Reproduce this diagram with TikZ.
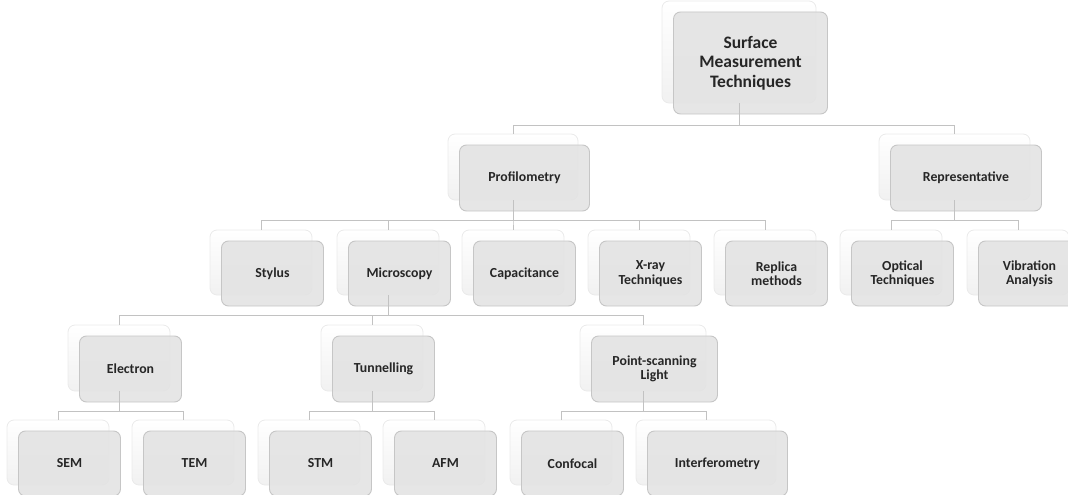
\documentclass[tikz,border=0pt]{standalone}
\usepackage{fontspec}
\setmainfont{Carlito}
\definecolor{boxgray}{HTML}{E3E3E3}
\definecolor{boxline}{HTML}{C6C6C6}
\definecolor{backline}{HTML}{EAEAEA}
\definecolor{wiregray}{HTML}{C2C2C2}
\definecolor{textgray}{HTML}{262626}

\tikzset{
	back/.style={rectangle, rounded corners=7pt, draw=backline, line width=0.8pt,
		top color=white, bottom color=gray!11, minimum width=#1pt,
		minimum height=65pt, inner sep=0pt},
	front/.style={rectangle, rounded corners=7pt, draw=boxline, line width=0.9pt,
		fill=boxgray, fill opacity=0.9, text opacity=1, text=textgray,
		minimum width=#1pt, minimum height=65pt, inner sep=0pt, align=center,
		font=\fontsize{13.8}{14.5}\selectfont\bfseries, xshift=11.5pt, yshift=-11pt},
	wire/.style={draw=wiregray, line width=1pt},
}

\begin{document}
\begin{tikzpicture}[x=1pt,y=1pt]
	\useasboundingbox (0,0) rectangle (1068,-495);
	\clip (0,0) rectangle (1068,-495);

	% root
	\node[back=154, minimum height=102pt] (surf) at (739,-52) {};
	\node[front=154, minimum height=102pt, font=\fontsize{17.5}{19.5}\selectfont\bfseries]
		(surf-t) at (739,-52) {Surface\\Measurement\\Techniques};

	% second row
	\foreach \n/\x/\w/\t in {prof/513/130/Profilometry, repr/954.5/151/Representative}{
		\node[back=\w, minimum height=66pt] (\n) at (\x,-167) {};
		\node[front=\w, minimum height=66pt] (\n-t) at (\x,-167) {\t};
	}

	% third row
	\foreach \n/\x/\t in {styl/261/Stylus, micr/388/Microscopy, capa/513/Capacitance,
			xray/639/{X-ray\\Techniques}, repl/765/{Replica\\methods},
			opti/891/{Optical\\Techniques}, vibr/1018/{Vibration\\Analysis}}{
		\node[back=102] (\n) at (\x,-262.5) {};
		\node[front=102] (\n-t) at (\x,-262.5) {\t};
	}

	% fourth row
	\foreach \n/\x/\w/\t in {elec/119/102/Electron, tunn/372/102/Tunnelling,
			poin/643/126/{Point-scanning\\Light}}{
		\node[back=\w, minimum height=66pt] (\n) at (\x,-358) {};
		\node[front=\w, minimum height=66pt] (\n-t) at (\x,-358) {\t};
	}

	% bottom row
	\foreach \n/\x/\w/\t in {sem/58/102/SEM, tem/183/102/TEM, stm/309/102/STM,
			afm/434/102/AFM, conf/561/102/Confocal, intf/706/140/Interferometry}{
		\node[back=\w] (\n) at (\x,-452.5) {};
		\node[front=\w] (\n-t) at (\x,-452.5) {\t};
	}

	% connectors
	\foreach \c in {prof,repr}
		\draw[wire] (surf.south) -- ++(0,-22) -| (\c.north);
	\foreach \c in {styl,micr,capa,xray,repl}
		\draw[wire] (prof.south) -- ++(0,-20) -| (\c.north);
	\foreach \c in {opti,vibr}
		\draw[wire] (repr.south) -- ++(0,-20) -| (\c.north);
	\foreach \c in {elec,tunn,poin}
		\draw[wire] (micr.south) -- ++(0,-20) -| (\c.north);
	\foreach \c in {sem,tem}
		\draw[wire] (elec.south) -- ++(0,-20) -| (\c.north);
	\foreach \c in {stm,afm}
		\draw[wire] (tunn.south) -- ++(0,-20) -| (\c.north);
	\foreach \c in {conf,intf}
		\draw[wire] (poin.south) -- ++(0,-20) -| (\c.north);
\end{tikzpicture}
\end{document}
